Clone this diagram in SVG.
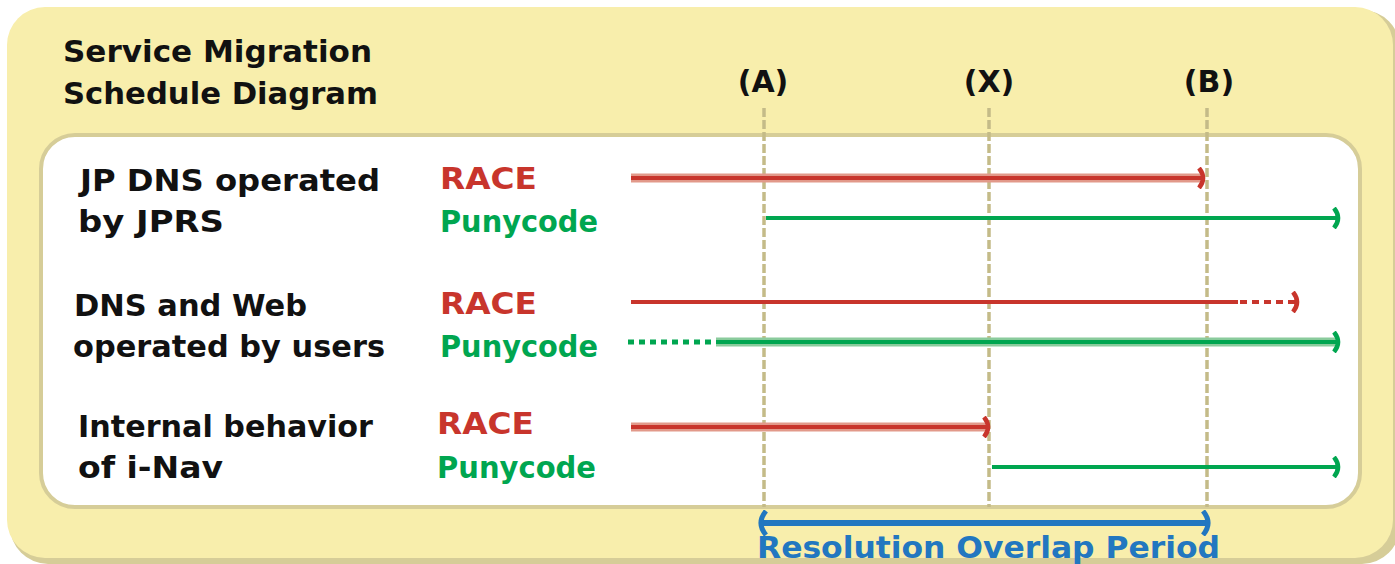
<svg xmlns="http://www.w3.org/2000/svg" width="1395" height="564" viewBox="0 0 1395 564">
<style>
.t{font-family:"DejaVu Sans","Liberation Sans",sans-serif;font-weight:bold;font-size:30px;fill:#111}
.r{fill:#c8352c}
.g{fill:#00a650}
.b{fill:#2277c0}
.vl{stroke:#c4bb88;stroke-width:3.5;stroke-dasharray:9 3;fill:none}
.red{stroke:#c8352c;stroke-width:4;fill:none}
.halor{stroke:#e2998a;stroke-width:9;fill:none}
.grn{stroke:#00a650;stroke-width:4;fill:none}
.halog{stroke:#8acb9c;stroke-width:9;fill:none}
</style>
<defs>
<marker id="mr" viewBox="0 0 10 22" refX="8" refY="11" markerWidth="10" markerHeight="22" markerUnits="userSpaceOnUse" orient="auto"><path d="M2,1 Q10,11 2,21" stroke="#c8352c" stroke-width="4.5" fill="none"/></marker>
<marker id="mg" viewBox="0 0 10 22" refX="8" refY="11" markerWidth="10" markerHeight="22" markerUnits="userSpaceOnUse" orient="auto"><path d="M2,1 Q10,11 2,21" stroke="#00a650" stroke-width="4.5" fill="none"/></marker>
<marker id="mb" viewBox="0 0 12 26" refX="9" refY="13" markerWidth="12" markerHeight="26" markerUnits="userSpaceOnUse" orient="auto-start-reverse"><path d="M2,1 Q12,13 2,25" stroke="#2277c0" stroke-width="5" fill="none"/></marker>
</defs>
<g id="background">
<rect x="10" y="10" width="1390" height="554" rx="38" fill="#d6cd98"/>
<rect x="7" y="7" width="1386" height="551" rx="38" fill="#f8eeac"/>
<rect x="41" y="135" width="1319" height="372" rx="34" fill="#ffffff" stroke="#d6cd98" stroke-width="4"/>
</g>
<g id="title">
<text class="t" x="63" y="62" textLength="309" lengthAdjust="spacingAndGlyphs">Service Migration</text>
<text class="t" x="63" y="104" textLength="315" lengthAdjust="spacingAndGlyphs">Schedule Diagram</text>
</g>
<g id="markers">
<text class="t" x="763" y="92" text-anchor="middle">(A)</text>
<text class="t" x="989" y="92" text-anchor="middle">(X)</text>
<text class="t" x="1209" y="92" text-anchor="middle">(B)</text>
<line class="vl" x1="764" y1="108" x2="764" y2="507"/>
<line class="vl" x1="989" y1="108" x2="989" y2="507"/>
<line class="vl" x1="1207" y1="108" x2="1207" y2="507"/>
</g>
<g id="row1">
<text class="t" x="80" y="191" textLength="300" lengthAdjust="spacingAndGlyphs">JP DNS operated</text>
<text class="t" x="78" y="232" textLength="146" lengthAdjust="spacingAndGlyphs">by JPRS</text>
<text class="t r" x="440" y="189" textLength="97" lengthAdjust="spacingAndGlyphs">RACE</text>
<text class="t g" x="440" y="232" textLength="158" lengthAdjust="spacingAndGlyphs">Punycode</text>
</g>
<g id="row2">
<text class="t" x="74" y="316" textLength="233" lengthAdjust="spacingAndGlyphs">DNS and Web</text>
<text class="t" x="73" y="357" textLength="312" lengthAdjust="spacingAndGlyphs">operated by users</text>
<text class="t r" x="440" y="314" textLength="97" lengthAdjust="spacingAndGlyphs">RACE</text>
<text class="t g" x="440" y="357" textLength="158" lengthAdjust="spacingAndGlyphs">Punycode</text>
</g>
<g id="row3">
<text class="t" x="78" y="437" textLength="295" lengthAdjust="spacingAndGlyphs">Internal behavior</text>
<text class="t" x="78" y="478" textLength="145" lengthAdjust="spacingAndGlyphs">of i-Nav</text>
<text class="t r" x="437" y="434" textLength="97" lengthAdjust="spacingAndGlyphs">RACE</text>
<text class="t g" x="437" y="478" textLength="159" lengthAdjust="spacingAndGlyphs">Punycode</text>
</g>
<g id="connectors">
<line class="halor" x1="631" y1="178" x2="1200" y2="178"/>
<line class="red" x1="631" y1="178" x2="1205" y2="178" marker-end="url(#mr)"/>
<line class="grn" x1="766" y1="218" x2="1340" y2="218" marker-end="url(#mg)"/>
<line class="red" x1="631" y1="302" x2="1238" y2="302" stroke-width="5"/>
<line class="red" x1="1240" y1="302" x2="1299" y2="302" stroke-width="5" stroke-dasharray="7 5" marker-end="url(#mr)"/>
<line x1="628" y1="342" x2="712" y2="342" stroke="#00a650" stroke-width="5" stroke-dasharray="6 5"/>
<line class="halog" x1="716" y1="342" x2="1335" y2="342"/>
<line class="grn" x1="716" y1="342" x2="1340" y2="342" marker-end="url(#mg)"/>
<line class="halor" x1="631" y1="427" x2="985" y2="427"/>
<line class="red" x1="631" y1="427" x2="990" y2="427" marker-end="url(#mr)"/>
<line class="grn" x1="992" y1="467" x2="1340" y2="467" marker-end="url(#mg)"/>
<line x1="759" y1="523" x2="1210" y2="523" stroke="#2277c0" stroke-width="6" marker-start="url(#mb)" marker-end="url(#mb)"/>
</g>
<g id="period">
<text class="t b" x="757" y="558" textLength="463" lengthAdjust="spacingAndGlyphs">Resolution Overlap Period</text>
</g>
</svg>
